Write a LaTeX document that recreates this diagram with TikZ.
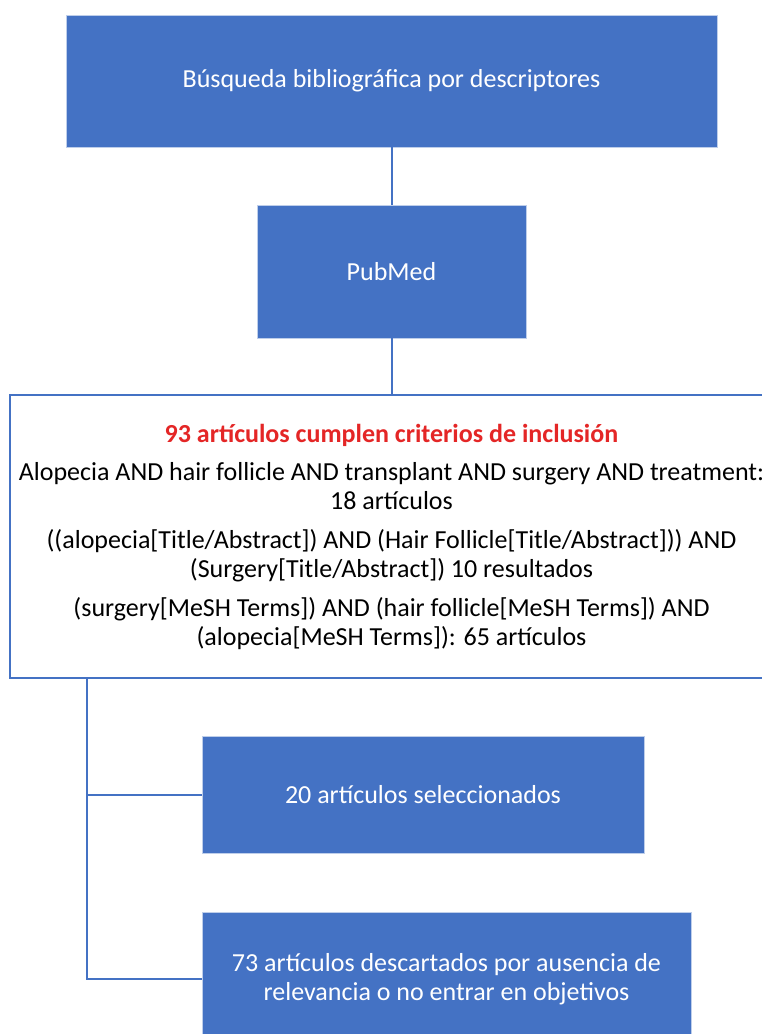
\documentclass[tikz,border=0pt]{standalone}
\usepackage{fontspec}
\setmainfont{Carlito}
\usepackage{xcolor}
\usepackage{tikz}
\definecolor{boxblue}{RGB}{68,114,196}
\definecolor{titlered}{RGB}{228,38,38}
\tikzset{
    flowfont/.style={
            font=\fontsize{13}{14.5}\selectfont
        },
    bluebox/.style={
            flowfont,
            fill=boxblue,
            draw=boxblue!35,
            line width=0.4pt,
            text=white,
            align=center,
            inner sep=0pt
        },
    listbox/.style={
            flowfont,
            fill=white,
            draw=boxblue,
            line width=1pt,
            text=black,
            align=center,
            inner sep=0pt
        },
    link/.style={
            draw=boxblue,
            line width=1pt
        }
}

\begin{document}
\begin{tikzpicture}[x=0.5pt, y=-0.5pt]
        \useasboundingbox (0,0) rectangle (761,1034);

        \node[bluebox, minimum width=325.5pt, minimum height=66pt] (search) at (391.5,81) {Búsqueda bibliográfica por descriptores};
        \node[bluebox, minimum width=134.5pt, minimum height=66.5pt] (pubmed) at (391.5,271.5) {PubMed};
        \node[listbox, minimum width=381.5pt, minimum height=141.5pt] (results) at (391.5,536.5) {%
            {\color{titlered}\bfseries 93 artículos cumplen criterios de inclusión}\\[4.5pt]
            Alopecia AND hair follicle AND transplant AND surgery AND treatment:\\
            18 artículos\\[5pt]
            ((alopecia[Title/Abstract]) AND (Hair Follicle[Title/Abstract])) AND\\
            (Surgery[Title/Abstract]) 10 resultados\\[5pt]
            (surgery[MeSH Terms]) AND (hair follicle[MeSH Terms]) AND\\
            (alopecia[MeSH Terms]): 65 artículos};
        \node[bluebox, minimum width=221pt, minimum height=58.5pt] (selected) at (423,794.5) {20 artículos seleccionados};
        \node[bluebox, minimum width=244.5pt, minimum height=67pt] (discarded) at (446.5,979) {73 artículos descartados por ausencia de\\relevancia o no entrar en objetivos};

        \coordinate (trunk) at (87,678);

        \draw[link] (search) -- (pubmed);
        \draw[link] (pubmed) -- (results);
        \draw[link] (trunk) |- (selected);
        \draw[link] (trunk) |- (discarded);

    \end{tikzpicture}
\end{document}
